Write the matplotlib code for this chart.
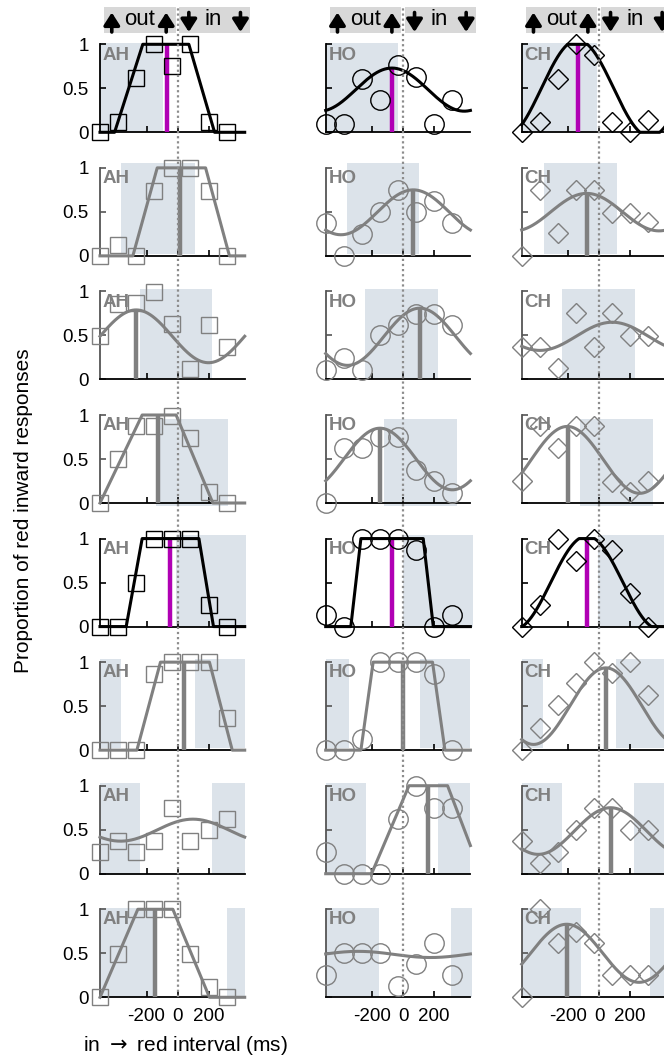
import numpy as np
import matplotlib.pyplot as plt
from matplotlib.transforms import blended_transform_factory
from matplotlib.lines import Line2D
from matplotlib.patches import Rectangle, FancyArrowPatch

plt.rcParams['font.family'] = ['Liberation Sans', 'DejaVu Sans']

# stimulus offsets (ms), one column of marks per subject
delays = [-500, -383.3, -266.7, -150, -33.3, 83.3, 200, 316.7]
subjects = ["AH", "HO", "CH"]

# proportion of red inward responses, one list per row
ah_resp = [
    [0, 0.12, 0.62, 1, 0.75, 1, 0.12, 0],
    [0, 0.125, 0, 0.74, 1, 1, 0.74, 0],
    [0.49, 0.86, 0.87, 0.99, 0.625, 0.12, 0.62, 0.37],
    [0, 0.5, 0.87, 0.87, 0.99, 0.74, 0.12, 0],
    [0, 0, 0.49, 1, 1, 1, 0.245, 0],
    [0, 0, 0, 0.87, 1, 1, 1, 0.37],
    [0.25, 0.375, 0.25, 0.375, 0.745, 0.375, 0.5, 0.62],
    [0, 0.49, 1, 1, 1, 0.49, 0.12, 0],
]
ho_resp = [
    [0.10, 0.10, 0.61, 0.37, 0.77, 0.63, 0.10, 0.37],
    [0.37, 0, 0.25, 0.50, 0.75, 0.50, 0.625, 0.37],
    [0.11, 0.24, 0.11, 0.50, 0.62, 0.74, 0.74, 0.62],
    [0, 0.625, 0.625, 0.75, 0.75, 0.37, 0.245, 0.11],
    [0.13, 0, 1, 1, 1, 0.87, 0, 0.13],
    [0, 0, 0.13, 1, 1, 1, 0.87, 0],
    [0.25, 0, 0, 0, 0.62, 1.0, 0.745, 0.745],
    [0.25, 0.5, 0.5, 0.5, 0.13, 0.375, 0.62, 0.25],
]
ch_resp = [
    [0, 0.12, 0.61, 1.0, 0.88, 0.12, 0, 0.14],
    [0, 0.75, 0.26, 0.75, 0.75, 0.485, 0.485, 0.39],
    [0.37, 0.37, 0.125, 0.75, 0.37, 0.75, 0.49, 0.49],
    [0.245, 0.87, 0.625, 0.87, 0.87, 0.24, 0.12, 0.245],
    [0, 0.245, 1.0, 0.74, 1.0, 0.87, 0.38, 0],
    [0, 0.255, 0.51, 0.76, 1.0, 0.88, 1.0, 0.63],
    [0.375, 0.12, 0.25, 0.5, 0.745, 0.745, 0.5, 0.5],
    [0, 1.0, 0.62, 0.745, 0.62, 0.25, 0.25, 0.25],
]

# fitted curves: corner points (x, y) of a trapezoid, or (peak, mean, amplitude) of a cosine
ah_fit = [
    [(-500, 0), (-406, 0), (-224, 1), (73, 1), (239, 0), (433.3, 0)],
    [(-500, 0), (-288, 0), (-131, 1), (181, 1), (335, 0), (433.3, 0)],
    (-267, 0.49, 0.30),
    [(-500, 0), (-228, 1), (-9, 1), (228, 0), (433.3, 0)],
    [(-500, 0), (-331, 0), (-228, 1), (138, 1), (232, 0), (433.3, 0)],
    [(-500, 0), (-262, 0), (-110, 1), (206, 1), (353, 0), (433.3, 0)],
    (99, 0.495, 0.125),
    [(-500, 0), (-256, 1), (-30, 1), (206, 0), (433.3, 0)],
]
ho_fit = [
    (-73, 0.485, 0.245),
    (65, 0.495, 0.255),
    (107, 0.485, 0.325),
    (-150, 0.5, 0.35),
    [(-500, 0), (-338, 0), (-273, 1), (129, 1), (194, 0), (433.3, 0)],
    [(-500, 0), (-273, 0), (-194, 1), (189, 1), (269, 0), (433.3, 0)],
    [(-500, 0), (-204, 0), (37, 1), (286, 1), (433.3, 0.32)],
    (-290, 0.487, 0.035),
]
ch_fit = [
    (-140, 0.5, 0.55),
    (-81, 0.497, 0.213),
    (84, 0.49, 0.16),
    (-206, 0.49, 0.38),
    (-80, 0.5, 0.53),
    (43, 0.5, 0.435),
    (73, 0.485, 0.265),
    (-210, 0.5, 0.33),
]

# position of the peak marker bar (None = no bar)
ah_peak = [-69, 19, -267, -127, -49, 45, None, -144]
ho_peak = [-72, 65, 107, -150, -71, 0, 161, None]
ch_peak = [-135, -81, None, -204, -81, 43, 73, -210]

# shaded intervals (ms)
ah_shade = [[(-500, -95)], [(-364, 110)], [(-245, 224)], [(-137, 325)], [(-9, 443)],
            [(-500, -363), (110, 433.3)], [(-500, -245), (224, 433.3)], [(-500, -159), (318, 433.3)]]
ho_shade = [[(-500, -32)], [(-361, 103)], [(-245, 222)], [(-125, 345)], [(0, 448)],
            [(-500, -350), (107, 430)], [(-500, -241), (226, 433.3)], [(-500, -155), (306, 441)]]
ch_shade = [[(-500, -13)], [(-357, 112)], [(-241, 230)], [(-125, 345)], [(-6, 470)],
            [(-500, -361), (108, 470)], [(-500, -243), (226, 470)], [(-500, -120), (327, 470)]]

highlight_rows = [0, 4]

resp = {"AH": ah_resp, "HO": ho_resp, "CH": ch_resp}
fits = {"AH": ah_fit, "HO": ho_fit, "CH": ch_fit}
peaks = {"AH": ah_peak, "HO": ho_peak, "CH": ch_peak}
shades = {"AH": ah_shade, "HO": ho_shade, "CH": ch_shade}
marker = {"AH": "s", "HO": "o", "CH": "D"}
msize = {"AH": 11.5, "HO": 14, "CH": 9.8}
shade_y = [(0, 1.01), (0.02, 1.055), (0, 1.026), (-0.03, 0.955),
           (0, 1.035), (0.027, 1.04), (0, 1.03), (0, 1.01)]

W, H = 664, 1059
XLIM = (-500, 433.3)
PERIOD = XLIM[1] - XLIM[0]
col_left = [100, 325.7, 521.7]
ax_w, ax_h = 144.7, 88
row_bottom = [132.3 + 123.57 * k for k in range(8)]

GRAY = "#808080"
MAGENTA = "#b000b4"
SHADE = "#dce3ea"


def fit_curve(fit):
    if isinstance(fit, list):
        xs = [p[0] for p in fit]
        ys = [p[1] for p in fit]
        return np.array(xs), np.array(ys)
    peak, mean, amp = fit
    xs = np.linspace(XLIM[0], XLIM[1], 300)
    ys = np.clip(mean + amp * np.cos(2 * np.pi * (xs - peak) / PERIOD), 0, 1)
    return xs, ys


fig = plt.figure(figsize=(W / 100, H / 100), dpi=100)

top_axes = []
for c, subj in enumerate(subjects):
    for r in range(8):
        ax = fig.add_axes([col_left[c] / W, 1 - row_bottom[r] / H, ax_w / W, ax_h / H])
        ax.set_xlim(*XLIM)
        ax.set_ylim(0, 1)
        ax.patch.set_alpha(0)
        dark = r in highlight_rows
        col = "black" if dark else GRAY

        for x0, x1 in shades[subj][r]:
            yb, yt = shade_y[r]
            ax.add_patch(Rectangle((x0, yb), x1 - x0, yt - yb, facecolor=SHADE,
                                   edgecolor="none", zorder=0, clip_on=False))

        xs, ys = fit_curve(fits[subj][r])
        ax.plot(xs, ys, color=col, lw=2.2, zorder=3, clip_on=False)

        bx = peaks[subj][r]
        if bx is not None:
            h = np.interp(bx, xs, ys)
            ax.plot([bx, bx], [0, h], color=MAGENTA if dark else GRAY, lw=3.2,
                    solid_capstyle="butt", zorder=2.8)

        ax.plot(delays, resp[subj][r], linestyle="none", marker=marker[subj],
                ms=msize[subj], mfc="none", mec=col, mew=1.0, zorder=4, clip_on=False)

        ax.text(0.02, 0.975, subj, transform=ax.transAxes, ha="left", va="top",
                fontsize=13.5, fontweight="bold", color=GRAY, zorder=1)

        for s in ["top", "right"]:
            ax.spines[s].set_visible(False)
        ax.spines["left"].set_bounds(0, 1)
        ax.spines["left"].set_color("black" if dark else "#555555")
        ax.spines["left"].set_linewidth(1.3)
        ax.spines["bottom"].set_linewidth(1.3)
        ax.spines["bottom"].set_zorder(2.5)

        ax.set_yticks([0, 0.5, 1])
        ax.set_xticks([-200, 0, 200])
        ax.set_yticklabels(["0", "0.5", "1"] if c == 0 else [])
        ax.set_xticklabels(["-200", "0", "200"] if r == 7 else [])
        ax.tick_params(axis="y", direction="in", length=4, width=1.2, labelsize=13.5,
                       pad=8, colors="black" if dark else "#555555", labelcolor="black")
        ax.tick_params(axis="x", direction="in", length=4, width=1.2, labelsize=13.5, pad=8)
        if r == 0:
            top_axes.append(ax)

# header bands and dotted zero lines
y_box0, y_box1 = 1 - 33 / H, 1 - 6.7 / H
y_mid = 1 - 19.5 / H
for ax in top_axes:
    tr = blended_transform_factory(ax.transData, fig.transFigure)
    for x0, x1 in [(-471, -12), (12, 469)]:
        fig.add_artist(Rectangle((x0, y_box0), x1 - x0, y_box1 - y_box0, transform=tr,
                                 facecolor="#d8d8d8", edgecolor="none", zorder=1))
    fig.text(-245, y_mid, "out", transform=tr, ha="center", va="center", fontsize=16)
    fig.text(229, y_mid, "in", transform=tr, ha="center", va="center", fontsize=16)
    for ax_x, up in [(-424, True), (-73, True), (73, False), (406, False)]:
        lo, hi = 1 - 32 / H, 1 - 12.5 / H
        a, b = (lo, hi) if up else (hi, lo)
        fig.add_artist(FancyArrowPatch((ax_x, a), (ax_x, b), transform=tr,
                                       arrowstyle="-|>,head_length=0.75,head_width=0.48",
                                       mutation_scale=10, lw=2.6, color="black",
                                       shrinkA=0, shrinkB=0, zorder=3))
    fig.add_artist(Line2D([0, 0], [1 - 997.3 / H, 1 - 6.7 / H], transform=tr,
                          ls=(0, (1, 1.3)), lw=1.6, color="#8c8c8c", zorder=5))

fig.text(24 / W, 0.518, "Proportion of red inward responses", rotation=90,
         ha="center", va="center", fontsize=15)
fig.text(83 / W, 1 - 1045.7 / H, r"in $\rightarrow$ red interval (ms)", ha="left",
         va="center", fontsize=15)

fig.savefig("out.png", dpi=100)
